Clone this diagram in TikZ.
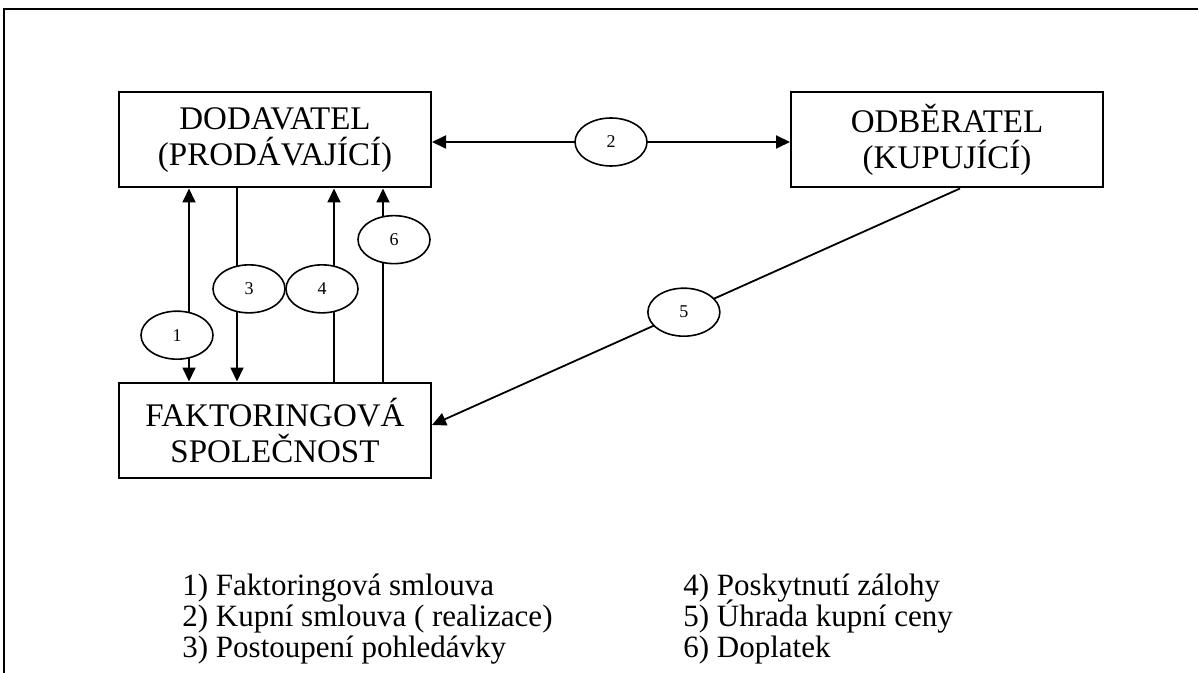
\documentclass[tikz,border=0pt]{standalone}
\usepackage{fontspec}
\setmainfont{Liberation Serif}
\usetikzlibrary{arrows.meta,positioning,shapes.geometric}
\tikzset{
  party/.style={rectangle, draw, line width=1pt, align=center, font=\fontsize{16.5}{18}\selectfont, minimum width=156pt, minimum height=47.5pt, inner sep=0pt},
  num/.style={ellipse, draw, fill=white, line width=0.8pt, font=\fontsize{9}{10}\selectfont, minimum width=36pt, minimum height=24pt, inner sep=0pt},
  arr/.style={-{Triangle[length=7pt,width=6.5pt]}, line width=0.9pt},
  darr/.style={{Triangle[length=7pt,width=6.5pt]}-{Triangle[length=7pt,width=6.5pt]}, line width=0.9pt},
  legend/.style={anchor=base west, inner sep=0pt, font=\fontsize{15.5}{15}\selectfont}
}

\begin{document}
\begin{tikzpicture}[x=0.5pt, y=-0.5pt, node distance=96.5pt and 179pt]
\useasboundingbox (0,0) rectangle (1198,673);
\draw[line width=1.4pt] (4,673) -- (4,9) -- (1198,9);

\node[party] (dod) at (275,140) {DODAVATEL\\(PRODÁVAJÍCÍ)};
\node[party, below=of dod] (fak) {FAKTORINGOVÁ\\SPOLEČNOST};
\node[party, right=of dod] (odb) {ODBĚRATEL\\(KUPUJÍCÍ)};

\draw[darr] ([yshift=-1pt]dod.east) -- node[num] (n2) {2} ([yshift=-1pt]odb.west);
\draw[darr] ([xshift=-43pt]dod.south) -- node[num, pos=0.76, xshift=-6pt] (n1) {1} ([xshift=-43pt]fak.north);
\draw[arr] ([xshift=-19pt]dod.south) -- node[num, pos=0.52, xshift=6pt] (n3) {3} ([xshift=-19pt]fak.north);
\draw[arr] ([xshift=29.5pt]fak.north) -- node[num, pos=0.48, xshift=-6pt] (n4) {4} ([xshift=29.5pt]dod.south);
\draw[arr] ([xshift=54pt]fak.north) -- node[num, pos=0.735, xshift=5.5pt] (n6) {6} ([xshift=54pt]dod.south);
\draw[arr] ([xshift=6.5pt]odb.south) -- node[num, pos=0.523] (n5) {5} ([yshift=2.5pt]fak.east);

\node[legend] (l1) at (182,595) {1) Faktoringová smlouva};
\node[legend] (l2) at (182,626) {2) Kupní smlouva ( realizace)};
\node[legend] (l3) at (182,657) {3) Postoupení pohledávky};
\node[legend] (l4) at (683,595) {4) Poskytnutí zálohy};
\node[legend] (l5) at (683,626) {5) Úhrada kupní ceny};
\node[legend] (l6) at (683,657) {6) Doplatek};
\end{tikzpicture}
\end{document}
